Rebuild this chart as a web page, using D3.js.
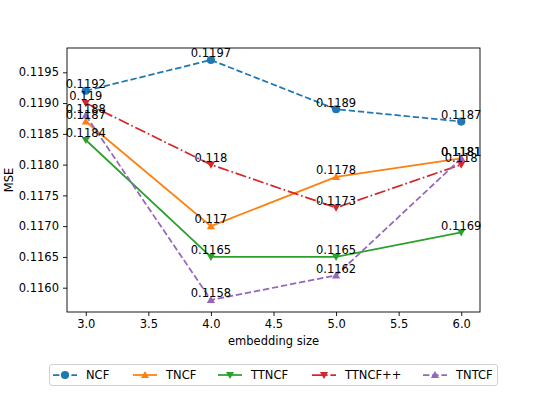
<!DOCTYPE html>
<html>
<head>
<meta charset="utf-8">
<script src="https://cdn.jsdelivr.net/npm/d3@7"></script>
<style>
  body { margin: 0; background: #fff; }
  svg { display: block; font-family: "DejaVu Sans", sans-serif; }
</style>
</head>
<body>
<div id="chart"></div>
<script>
// values
const sizes = [3, 4, 5, 6];
const ncf = [0.1192, 0.1197, 0.1189, 0.1187];
const tncf = [0.1187, 0.1170, 0.1178, 0.1181];
const ttncf = [0.1184, 0.1165, 0.1165, 0.1169];
const ttncfpp = [0.1190, 0.1180, 0.1173, 0.1180];
const tntcf = [0.1188, 0.1158, 0.1162, 0.1181];
const xTicks = [3.0, 3.5, 4.0, 4.5, 5.0, 5.5, 6.0];
const yTicks = [0.1160, 0.1165, 0.1170, 0.1175, 0.1180, 0.1185, 0.1190, 0.1195];

const series = [
  {name: 'NCF', vals: ncf, color: '#1f77b4', marker: 'circle', dash: '6.4,2.8'},
  {name: 'TNCF', vals: tncf, color: '#ff7f0e', marker: 'up', dash: null},
  {name: 'TTNCF', vals: ttncf, color: '#2ca02c', marker: 'down', dash: null},
  {name: 'TTNCF++', vals: ttncfpp, color: '#d62728', marker: 'down', dash: '11.1,2.8,1.7,2.8'},
  {name: 'TNTCF', vals: tntcf, color: '#9467bd', marker: 'up', dash: '6.4,2.8'},
];

const W = 533, H = 398;
const margin = {top: 48, right: 53, bottom: 86, left: 67};
const fs = 11.5;

const svg = d3.select('#chart').append('svg')
  .attr('width', W).attr('height', H);

const allVals = series.flatMap(s => s.vals);
const [ymin, ymax] = d3.extent(allVals);
const ypad = (ymax - ymin) * 0.05;
const x = d3.scaleLinear().domain([2.85, 6.15]).range([margin.left, W - margin.right]);
const y = d3.scaleLinear().domain([ymin - ypad, ymax + ypad]).range([H - margin.bottom, margin.top]);

// axes
let xa = svg.append('g')
  .attr('transform', `translate(0,${H - margin.bottom})`)
  .call(d3.axisBottom(x).tickValues(xTicks).tickFormat(d3.format('.1f')).tickSize(4).tickPadding(4));
let ya = svg.append('g')
  .attr('transform', `translate(${margin.left},0)`)
  .call(d3.axisLeft(y).tickValues(yTicks).tickFormat(d3.format('.4f')).tickSize(4).tickPadding(4));
for (let a of [xa, ya]) {
  a.select('.domain').remove();
  a.selectAll('text').attr('font-size', fs).attr('fill', '#000').attr('font-family', 'DejaVu Sans');
  a.selectAll('line').attr('stroke', '#000').attr('stroke-width', 0.9);
}

svg.append('rect')
  .attr('x', margin.left).attr('y', margin.top)
  .attr('width', W - margin.left - margin.right)
  .attr('height', H - margin.top - margin.bottom)
  .attr('fill', 'none').attr('stroke', '#000').attr('stroke-width', 0.9);

svg.append('text')
  .attr('x', (margin.left + W - margin.right) / 2).attr('y', 345)
  .attr('text-anchor', 'middle').attr('font-size', fs)
  .text('embedding size');
svg.append('text')
  .attr('transform', `translate(13,${(margin.top + H - margin.bottom) / 2}) rotate(-90)`)
  .attr('text-anchor', 'middle').attr('font-size', fs)
  .text('MSE');

function markerPath(type, r) {
  if (type === 'circle') return d3.symbol(d3.symbolCircle, Math.PI * r * r)();
  let h = r;
  if (type === 'up') return `M0,${-h}L${h},${h * 0.75}L${-h},${h * 0.75}Z`;
  return `M0,${h}L${h},${-h * 0.75}L${-h},${-h * 0.75}Z`;
}

const line = d3.line().x((d, i) => x(sizes[i])).y(d => y(d));
const plot = svg.append('g');

for (let s of series) {
  plot.append('path')
    .attr('d', line(s.vals))
    .attr('fill', 'none')
    .attr('stroke', s.color)
    .attr('stroke-width', 1.75)
    .attr('stroke-dasharray', s.dash);
  plot.selectAll(null).data(s.vals).enter()
    .append('path')
    .attr('d', markerPath(s.marker, 4.1))
    .attr('transform', (d, i) => `translate(${x(sizes[i])},${y(d)})`)
    .attr('fill', s.color);
}
// value labels
for (let s of series) {
  plot.selectAll(null).data(s.vals).enter()
    .append('text')
    .attr('x', (d, i) => x(sizes[i]))
    .attr('y', d => y(d) - 2.7)
    .attr('text-anchor', 'middle')
    .attr('font-size', fs)
    .attr('fill', '#000')
    .text(d => String(+d.toFixed(4)));
}

// legend
const lg = svg.append('g');
lg.append('rect')
  .attr('x', 49.5).attr('y', 364.5).attr('width', 448).attr('height', 21)
  .attr('rx', 2.5).attr('fill', '#fff').attr('stroke', '#ccc').attr('stroke-width', 0.9);
const legX = [53, 133, 218, 312, 423];
series.forEach((s, i) => {
  let g = lg.append('g').attr('transform', `translate(${legX[i]},375)`);
  g.append('line')
    .attr('x1', 0).attr('x2', 24).attr('y1', 0).attr('y2', 0)
    .attr('stroke', s.color).attr('stroke-width', 1.75)
    .attr('stroke-dasharray', s.dash);
  g.append('path').attr('d', markerPath(s.marker, 4.1))
    .attr('transform', 'translate(12,0)').attr('fill', s.color);
  g.append('text').attr('x', 33).attr('y', 4.2)
    .attr('font-size', fs).text(s.name);
});
</script>
</body>
</html>
